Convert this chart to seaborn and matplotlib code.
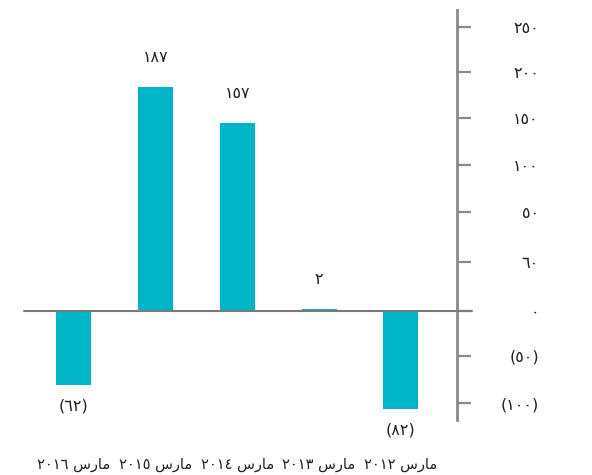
import matplotlib
matplotlib.use("Agg")
import matplotlib.pyplot as plt
import seaborn as sns
import pandas as pd

# ---- data (logical order) ----
periods = ["مارس ٢٠١٦", "مارس ٢٠١٥", "مارس ٢٠١٤", "مارس ٢٠١٣", "مارس ٢٠١٢"]
values = [-62, 187, 157, 2, -82]
value_labels = ["(٦٢)", "١٨٧", "١٥٧", "٢", "(٨٢)"]
y_tick_labels = ["٢٥٠", "٢٠٠", "١٥٠", "١٠٠", "٥٠", "٦٠", "٠", "(٥٠)", "(١٠٠)"]

# ---- simple visual shaping for the Arabic word (matplotlib has no shaping) ----
SHAPED = {"مارس": "\uFEB1\uFEAD\uFE8E\uFEE3"}

def visual(label):
    words = label.split(" ")
    out = [SHAPED.get(w, w) for w in words]
    return " ".join(reversed(out))

sns.set_theme(style="white")
plt.rcParams["font.family"] = ["DejaVu Sans"]

W, H = 592, 475
fig = plt.figure(figsize=(W / 100, H / 100), dpi=100)
# axes box in pixels
L, R, T, B = 24, 457, 10, 420
ax = fig.add_axes([L / W, (H - B) / H, (R - L) / W, (B - T) / H])

df = pd.DataFrame({"period": periods, "value": values})
bar_color = "#00b5c5"
sns.barplot(data=df, x="period", y="value", order=periods, color=bar_color,
            width=0.43, saturation=1, ax=ax, zorder=2, linewidth=0)

# scale: pixels per unit
base_px = 311
ppu = 1.2
ax.set_ylim(-(B - base_px) / ppu, (base_px - T) / ppu)
ax.set_xlim(-0.61, (R - 75) / 81.5)

# y ticks on the right (positions)
tick_px = [26.7, 72, 118, 165, 212, 262, 311, 356, 403]
tick_pos = [(base_px - p) / ppu for p in tick_px]
ax.yaxis.tick_right()
ax.set_yticks(tick_pos)
ax.set_yticklabels(y_tick_labels)
for lab in ax.get_yticklabels():
    lab.set_horizontalalignment("right")
ax.tick_params(axis="y", direction="out", length=10, width=1.6, color="#8a8a8a",
               pad=49, labelsize=11.5, labelcolor="#222222", right=True, left=False)

# x labels
ax.set_xticks(range(len(periods)))
ax.set_xticklabels([visual(p) for p in periods])
ax.tick_params(axis="x", length=0, pad=27, labelsize=10.5, labelcolor="#222222")
ax.set_xlabel("")
ax.set_ylabel("")

for side in ["top", "left", "bottom"]:
    ax.spines[side].set_visible(False)
ax.spines["right"].set_color("#8a8a8a")
ax.spines["right"].set_linewidth(2)

# zero line extending past the spine, drawn over the bars
ax.axhline(0, xmin=0, xmax=(472 - L) / (R - L), color="#7a7a7a", lw=1.5,
           clip_on=False, zorder=4)

# value labels
for i, (v, t) in enumerate(zip(values, value_labels)):
    off = 21 if v >= 0 else -15
    ax.annotate(t, (i, v), xytext=(0, off), textcoords="offset points",
                ha="center", va="center", fontsize=11.5, color="#222222")

fig.savefig("out.png", dpi=100)
